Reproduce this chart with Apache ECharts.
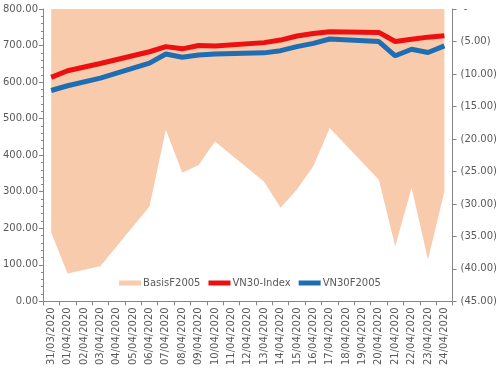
<!DOCTYPE html>
<html><head><meta charset="utf-8">
<script src="https://cdn.jsdelivr.net/npm/echarts@6/dist/echarts.min.js"></script>
<style>html,body{margin:0;padding:0;background:#fff}#c{width:500px;height:368px}</style>
</head><body><div id="c"></div>
<script>
const categories = ['31/03/2020','01/04/2020','02/04/2020','03/04/2020','04/04/2020','05/04/2020','06/04/2020','07/04/2020','08/04/2020','09/04/2020','10/04/2020','11/04/2020','12/04/2020','13/04/2020','14/04/2020','15/04/2020','16/04/2020','17/04/2020','18/04/2020','19/04/2020','20/04/2020','21/04/2020','22/04/2020','23/04/2020','24/04/2020'];
const basisF2005 = [-34.4,-40.7,null,-39.6,null,null,-30.4,-18.6,-25.2,-24.0,-20.4,null,null,-26.6,-30.6,-27.8,-24.2,-18.3,null,null,-26.3,-36.5,-27.5,-38.6,-28.1];
const vn30Index = [613,631,null,651,null,null,683,697,691,700,699,null,null,708,715,726,733,738,null,null,736,711,717,723,727];
const vn30F2005 = [577,590,null,611,null,null,652,677,668,674,677,null,null,680,686,697,706,718,null,null,711,672,690,681,699];

const FONT = 'DejaVu Sans';
const axisColor = '#868686';
const textColor = '#595959';
const chart = echarts.init(document.getElementById('c'));
chart.setOption({
  animation: false,
  grid: {left: 42, right: 47, top: 9, bottom: 66},
  legend: {
    left: 'center', top: 273, itemWidth: 22, itemHeight: 5, itemGap: 8,
    icon: 'rect',
    textStyle: {fontFamily: FONT, fontSize: 10, color: textColor, padding: [0,0,0,-3]},
    data: ['BasisF2005','VN30-Index','VN30F2005']
  },
  xAxis: {
    type: 'category', data: categories, boundaryGap: true,
    axisLine: {lineStyle: {color: axisColor}},
    axisTick: {show: true, alignWithLabel: false, length: 4, lineStyle: {color: axisColor}},
    axisLabel: {rotate: 90, interval: 0, fontFamily: FONT, fontSize: 10, color: textColor, margin: 6}
  },
  yAxis: [
    {type: 'value', min: 0, max: 800, interval: 100, position: 'left',
     splitLine: {show: false},
     axisLine: {show: true, lineStyle: {color: axisColor}},
     axisTick: {show: true, length: 4, lineStyle: {color: axisColor}},
     minorTick: {show: true, splitNumber: 5, length: 2, lineStyle: {color: axisColor}},
     axisLabel: {fontFamily: FONT, fontSize: 10, color: textColor, margin: 5, formatter: v => v.toFixed(2)}},
    {type: 'value', min: -45, max: 0, interval: 5, position: 'right',
     splitLine: {show: false},
     axisLine: {show: true, lineStyle: {color: axisColor}},
     axisTick: {show: true, length: 4, lineStyle: {color: axisColor}},
     axisLabel: {fontFamily: FONT, fontSize: 10, color: textColor, margin: 8, align: 'left',
       formatter: v => v === 0 ? ' -' : '(' + Math.abs(v).toFixed(2) + ')'}}
  ],
  series: [
    {name: 'BasisF2005', type: 'line', yAxisIndex: 1, data: basisF2005, connectNulls: true,
     symbol: 'none', lineStyle: {width: 0}, color: '#F8CBAD',
     areaStyle: {color: '#F8CBAD', opacity: 1}},
    {name: 'VN30-Index', type: 'line', yAxisIndex: 0, data: vn30Index, connectNulls: true,
     symbol: 'none', color: '#EC1010', lineStyle: {width: 5, color: '#EC1010'}, z: 3},
    {name: 'VN30F2005', type: 'line', yAxisIndex: 0, data: vn30F2005, connectNulls: true,
     symbol: 'none', color: '#1F6EB4', lineStyle: {width: 5, color: '#1F6EB4'}, z: 3}
  ]
});
</script></body></html>
